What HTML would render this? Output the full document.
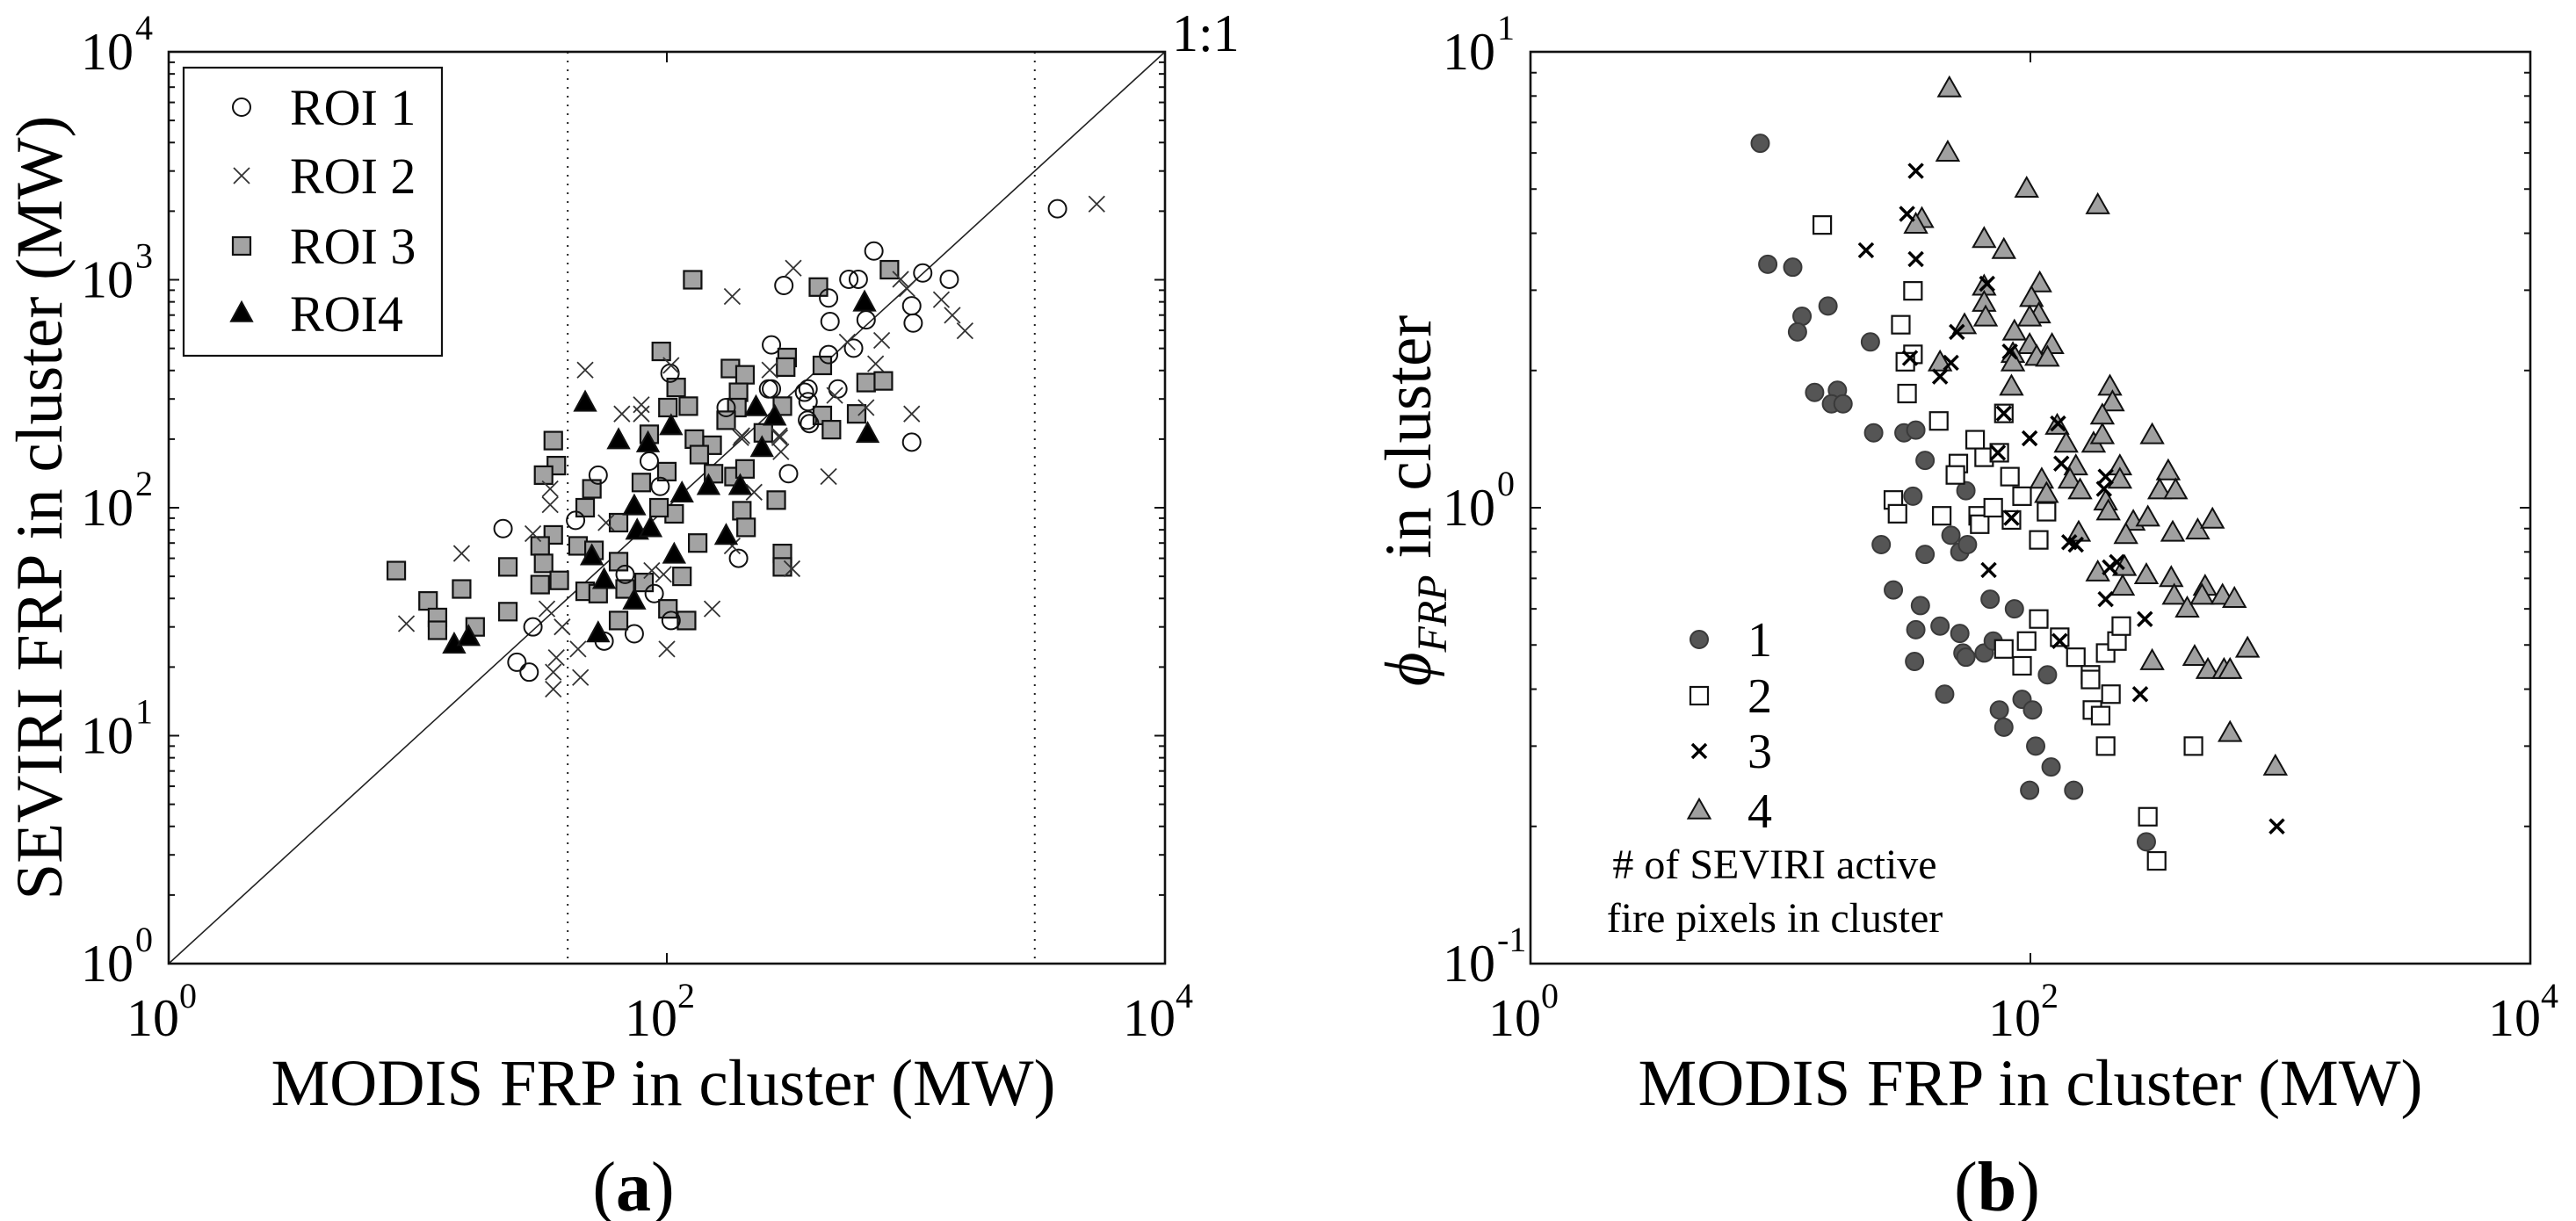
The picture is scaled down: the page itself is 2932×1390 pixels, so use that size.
<!DOCTYPE html>
<html><head><meta charset="utf-8"><style>
html,body{margin:0;padding:0;background:#fff;}
svg{display:block;font-family:"Liberation Serif",serif;}
</style></head><body>
<svg id="fig" width="2932" height="1390" viewBox="0 0 2932 1390" xmlns="http://www.w3.org/2000/svg">
<rect x="0" y="0" width="2932" height="1390" fill="#fff"/>
<g id="pa"></g>
<g id="pb"></g>
<text transform="translate(70,578) rotate(-90)" text-anchor="middle" font-size="75">SEVIRI FRP in cluster (MW)</text>
<text x="755" y="1258" text-anchor="middle" font-size="75">MODIS FRP in cluster (MW)</text>
<text x="721" y="1378" text-anchor="middle" font-size="80"><tspan>(</tspan><tspan font-weight="bold">a</tspan><tspan>)</tspan></text>
<text transform="translate(1628,570) rotate(-90)" text-anchor="middle" font-size="75"><tspan font-style="italic">ϕ</tspan><tspan font-style="italic" font-size="48" dy="18">FRP</tspan><tspan dy="-18"> in cluster</tspan></text>
<text x="2311" y="1258" text-anchor="middle" font-size="75">MODIS FRP in cluster (MW)</text>
<text x="2273" y="1378" text-anchor="middle" font-size="80"><tspan>(</tspan><tspan font-weight="bold">b</tspan><tspan>)</tspan></text>
<text x="1334" y="58" font-size="60">1:1</text>
</svg>
<script>
// ---------- Panel (a) data ----------
const roi1X=[295,263,103,263,357,173,367,85,53,43,22,308,94,194,89,104,74,29,25,28,68,56,3700,678,446,538,587,1065,1361,962,975,452,631,562,446,369,369,374,486,256,962];
const roi1Y=[944,518,389,332,321,275,242,160,139,88,81,141,124,60,42,32,28,30,21,19,51,26,2050,1337,832,1005,1005,1071,1005,769,646,656,667,501,470,332,292,234,332,332,194];
const roi2X=[322,183,47,66,79,79,104,259,283,287,200,34,34,29,15,9,33,38,36,44,35,45,35,100,152,87,97,183,224,318,57,5320,868,921,1265,1400,1574,729,530,689,631,962,446,284,472,198];
const roi2Y=[1125,845,402,258,283,258,421,402,207,176,207,121,103,77,63,31,36,30,22,24,19,18,16,24,36,53,51,68,117,54,86,2150,1005,914,818,699,597,542,533,428,275,258,137,203,311,203];
const roi3X=[127,95,180,206,109,101,122,194,191,173,304,300,291,406,35,36,32,85,129,152,135,244,100,79,50,154,186,206,275,47,107,200,208,64,93,35,31,32,44,51,64,133,291,291,8.2,23,15,11,12,12,17,23,31,37,47,53,68,81,115,101,120,64,783,421,631,740,421,578,458];
const roi3Y=[1000,485,408,383,337,275,279,321,275,242,456,414,279,929,197,153,139,210,200,188,171,213,144,129,121,141,137,148,108,100,94,97,82,86,100,76,68,57,68,65,58,70,63,55,53,55,44,39,33,29,30,35,46,48,43,42,44,47,50,36,32,32,1107,421,354,360,254,258,220];
const roi4X=[47,64,84,104,228,271,241,147,197,115,74,76,86,50,56,74,107,173,14,16,53,622,640];
const roi4Y=[288,197,191,227,275,250,182,124,124,115,101,79,81,61,48,39,62,75,25,27,28,792,210];
const aRefLines=[40,3000];
const aXTicks=[1,100,10000];
const aXTickExp=["0","2","4"];
const aYTicks=[1,10,100,1000,10000];
const aYTickExp=["0","1","2","3","4"];
const aLegend=["ROI 1","ROI 2","ROI 3","ROI4"];
// ---------- Panel (b) data ----------
const n1X=[8.3,8.9,11.2,15.5,12.2,11.7,22.9,13.7,16.9,16.0,17.8,23.6,31.2,34.8,37.9,33.9,55.2,25.3,37.9,48.1,52.2,56.0,28.3,36.3,69.0,86.3,34.8,43.5,52.2,34.4,53.7,65.3,71.0,55.2,117,45.4,75.1,92.6,102,78.3,105,121,99.3,149,291];
const n1Y=[6.3,3.42,3.37,2.77,2.63,2.43,2.31,1.79,1.81,1.69,1.69,1.46,1.46,1.48,1.27,1.06,1.09,0.83,0.79,0.87,0.80,0.83,0.66,0.61,0.63,0.60,0.54,0.55,0.53,0.46,0.48,0.48,0.51,0.47,0.43,0.39,0.36,0.38,0.36,0.33,0.30,0.27,0.24,0.24,0.185];
const n2X=[14.7,33.9,30.3,33.9,31.6,32.1,43.0,60.1,65.3,51.5,50.1,78.3,82.8,75.1,28.3,29.4,44.2,61.8,62.7,71.0,92.6,84.0,116,108,108,96.6,78.3,92.6,131,152,174,174,200,222,231,210,177,191,200,449,295,320];
const n2Y=[4.17,2.99,2.52,2.17,2.09,1.78,1.55,1.41,1.29,1.25,1.18,1.61,1.17,1.32,1.04,0.97,0.96,0.96,0.92,1.0,1.06,0.94,0.98,0.85,0.57,0.51,0.49,0.45,0.52,0.47,0.43,0.42,0.48,0.51,0.55,0.39,0.36,0.35,0.30,0.30,0.21,0.168];
const n3X=[34.8,32.1,22.0,34.8,67.1,50.8,33.0,48.1,43.5,82.8,78.3,99.3,74.1,129,133,84.0,68.1,143,131,200,197,152,208,222,200,287,275,968];
const n3Y=[5.48,4.41,3.67,3.51,3.10,2.43,2.13,2.08,1.94,2.20,1.61,1.42,1.32,1.53,1.25,0.95,0.73,0.84,0.51,1.17,1.10,0.83,0.74,0.76,0.63,0.57,0.39,0.20];
const n4X=[47.4,46.7,96.6,36.8,34.8,65.3,78.3,65.3,65.3,66.2,109,101,108,99.3,54.5,86.3,99.3,122,85.1,106,117,85.1,43.5,84.0,128,139,111,116,186,208,213,194,307,179,194,152,228,228,144,356,329,381,158,200,205,156,258,295,241,371,467,535,186,238,234,291,366,376,424,500,486,587,655,307,454,513,595,629,739,629,955];
const n4Y=[8.3,6.0,5.0,4.29,4.17,3.88,3.67,3.05,2.81,2.61,3.10,2.88,2.65,2.61,2.51,2.43,2.27,2.27,2.17,2.14,2.13,2.08,2.08,1.84,1.51,1.38,1.15,1.07,4.60,1.84,1.70,1.59,1.44,1.38,1.44,1.23,1.23,1.15,1.15,1.20,1.09,1.09,1.09,1.03,0.98,0.88,0.93,0.95,0.87,0.88,0.89,0.94,0.72,0.74,0.67,0.71,0.70,0.64,0.60,0.67,0.64,0.64,0.63,0.46,0.47,0.44,0.44,0.44,0.49,0.32,0.27];
const bXTicks=[1,100,10000];
const bXTickExp=["0","2","4"];
const bYTicks=[0.1,1,10];
const bYTickExp=["-1","0","1"];
const bLegend=["1","2","3","4"];
const bNote=["# of SEVIRI active","fire pixels in cluster"];

const NS="http://www.w3.org/2000/svg";
function mk(parent,tag,attrs){const e=document.createElementNS(NS,tag);for(const k in attrs)e.setAttribute(k,attrs[k]);parent.appendChild(e);return e;}
function logScale(d0,d1,r0,r1){const a=Math.log10(d0),b=Math.log10(d1);return v=>r0+(Math.log10(v)-a)/(b-a)*(r1-r0);}

function circle(g,x,y,fill,stroke){return mk(g,'circle',{cx:x,cy:y,r:10,fill:fill,stroke:stroke,'stroke-width':2});}
function square(g,x,y,fill){return mk(g,'rect',{x:x-10,y:y-10,width:20,height:20,fill:fill,stroke:'#111','stroke-width':2.2});}
function cross(g,x,y,col,w,s){return mk(g,'path',{d:`M${x-s} ${y-s}L${x+s} ${y+s}M${x-s} ${y+s}L${x+s} ${y-s}`,stroke:col,'stroke-width':w,fill:'none'});}
function tri(g,x,y,fill,w,h){return mk(g,'path',{d:`M${x} ${y-h*0.6}L${x+w/2} ${y+h*0.4}L${x-w/2} ${y+h*0.4}Z`,fill:fill,stroke:'#111','stroke-width':2});}

function axes(g,L,T,R,B,xs,ys,xTicks,xExp,yTicks,yExp,name){
  const y0=Math.log10(yTicks[0]),y1=Math.log10(yTicks[yTicks.length-1]);
  for(let d=y0;d<=y1;d++){
    for(let m=1;m<=9;m++){
      const v=Math.pow(10,d)*m; if(Math.log10(v)>y1+1e-9)break;
      const yy=ys(v); const len=(m===1)?12:7;
      const t1=mk(g,'line',{x1:L,y1:yy,x2:L+len,y2:yy,stroke:'#111','stroke-width':2});
      
      
      const t2=mk(g,'line',{x1:R,y1:yy,x2:R-len,y2:yy,stroke:'#111','stroke-width':2});
      
      
    }
  }
  xTicks.forEach((v,i)=>{
    const xx=xs(v);
    const t1=mk(g,'line',{x1:xx,y1:B,x2:xx,y2:B-12,stroke:'#111','stroke-width':2});
    
    
    const t2=mk(g,'line',{x1:xx,y1:T,x2:xx,y2:T+12,stroke:'#111','stroke-width':2});
    
    
    const tx=mk(g,'text',{x:xx-8,y:B+82,'text-anchor':'middle','font-size':60});
    
    
    tx.innerHTML=`10<tspan font-size="40" dy="-32">${xExp[i]}</tspan>`;
  });
  yTicks.forEach((v,i)=>{
    const yy=ys(v);
    const tx=mk(g,'text',{x:L-40,y:yy+20,'text-anchor':'end','font-size':60});
    
    
    tx.textContent='10';
    const ex=mk(g,'text',{x:L-38,y:yy-14,'text-anchor':'start','font-size':40});
    
    
    ex.textContent=yExp[i];
  });
  const fr=mk(g,'rect',{x:L,y:T,width:R-L,height:B-T,fill:'none',stroke:'#111','stroke-width':2.6});
  
  
}

// ---------- Panel (a) ----------
(function(){
  const g=document.getElementById('pa');
  const L=192,T=59,R=1326,B=1097;
  const xs=logScale(1,10000,L,R), ys=logScale(1,10000,B,T);
  aRefLines.forEach(v=>{
    const l=mk(g,'line',{x1:xs(v),y1:T,x2:xs(v),y2:B,stroke:'#222','stroke-width':2,'stroke-dasharray':'2 8'});
    
    
  });
  const one=mk(g,'line',{x1:xs(1),y1:ys(1),x2:xs(10000),y2:ys(10000),stroke:'#222','stroke-width':1.6});
  
  
  const s3=mk(g,'g',{});  
  for(let i=0;i<Math.min(roi3X.length,roi3Y.length);i++){const e=square(s3,xs(roi3X[i]),ys(roi3Y[i]),'#a3a3a3');}
  const s1=mk(g,'g',{});  
  for(let i=0;i<Math.min(roi1X.length,roi1Y.length);i++){const e=circle(s1,xs(roi1X[i]),ys(roi1Y[i]),'none','#111');}
  const s2=mk(g,'g',{});  
  for(let i=0;i<Math.min(roi2X.length,roi2Y.length);i++){const e=cross(s2,xs(roi2X[i]),ys(roi2Y[i]),'#333',1.8,9);}
  const s4=mk(g,'g',{});  
  for(let i=0;i<Math.min(roi4X.length,roi4Y.length);i++){const e=tri(s4,xs(roi4X[i]),ys(roi4Y[i]),'#000',24,22);}
  axes(g,L,T,R,B,xs,ys,aXTicks,aXTickExp,aYTicks,aYTickExp,'plot-frame-a');
  const lg=mk(g,'g',{});  
  mk(lg,'rect',{x:209,y:77,width:294,height:328,fill:'#fff',stroke:'#111','stroke-width':2.2});
  const ly=[122,200,280,357];
  aLegend.forEach((t,i)=>{
    const en=mk(lg,'g',{});  
    const mx=275,my=ly[i];
    if(i===0)circle(en,mx,my,'none','#111');
    if(i===1)cross(en,mx,my,'#333',1.8,9);
    if(i===2)square(en,mx,my,'#a3a3a3');
    if(i===3)tri(en,mx,my,'#000',24,22);
    const tx=mk(en,'text',{x:330,y:my+20,'font-size':58}); tx.textContent=t;
  });
})();

// ---------- Panel (b) ----------
(function(){
  const g=document.getElementById('pb');
  const L=1742,T=59,R=2880,B=1097;
  const xs=logScale(1,10000,L,R), ys=logScale(0.1,10,B,T);
  const s1=mk(g,'g',{});  
  for(let i=0;i<Math.min(n1X.length,n1Y.length);i++){const e=circle(s1,xs(n1X[i]),ys(n1Y[i]),'#555','#3a3a3a');}
  const s2=mk(g,'g',{});  
  for(let i=0;i<Math.min(n2X.length,n2Y.length);i++){const e=square(s2,xs(n2X[i]),ys(n2Y[i]),'#fff');}
  const s4=mk(g,'g',{});  
  for(let i=0;i<Math.min(n4X.length,n4Y.length);i++){const e=tri(s4,xs(n4X[i]),ys(n4Y[i]),'#a0a0a0',25,22);}
  const s3=mk(g,'g',{});  
  for(let i=0;i<Math.min(n3X.length,n3Y.length);i++){const e=cross(s3,xs(n3X[i]),ys(n3Y[i]),'#000',3.5,8);}
  axes(g,L,T,R,B,xs,ys,bXTicks,bXTickExp,bYTicks,bYTickExp,'plot-frame-b');
  const lg=mk(g,'g',{});  
  const ly=[728,792,855,923];
  bLegend.forEach((t,i)=>{
    const en=mk(lg,'g',{});  
    const mx=1934,my=ly[i];
    if(i===0)circle(en,mx,my,'#555','#3a3a3a');
    if(i===1)square(en,mx,my,'#fff');
    if(i===2)cross(en,mx,my,'#000',3.5,8);
    if(i===3)tri(en,mx,my,'#a0a0a0',25,22);
    const tx=mk(en,'text',{x:2003,y:my+19,'text-anchor':'middle','font-size':56}); tx.textContent=t;
  });
  bNote.forEach((t,i)=>{
    const tx=mk(lg,'text',{x:2020,y:1000+i*61,'text-anchor':'middle','font-size':48});
    
    
    tx.textContent=t;
  });
})();
</script>
</body></html>
